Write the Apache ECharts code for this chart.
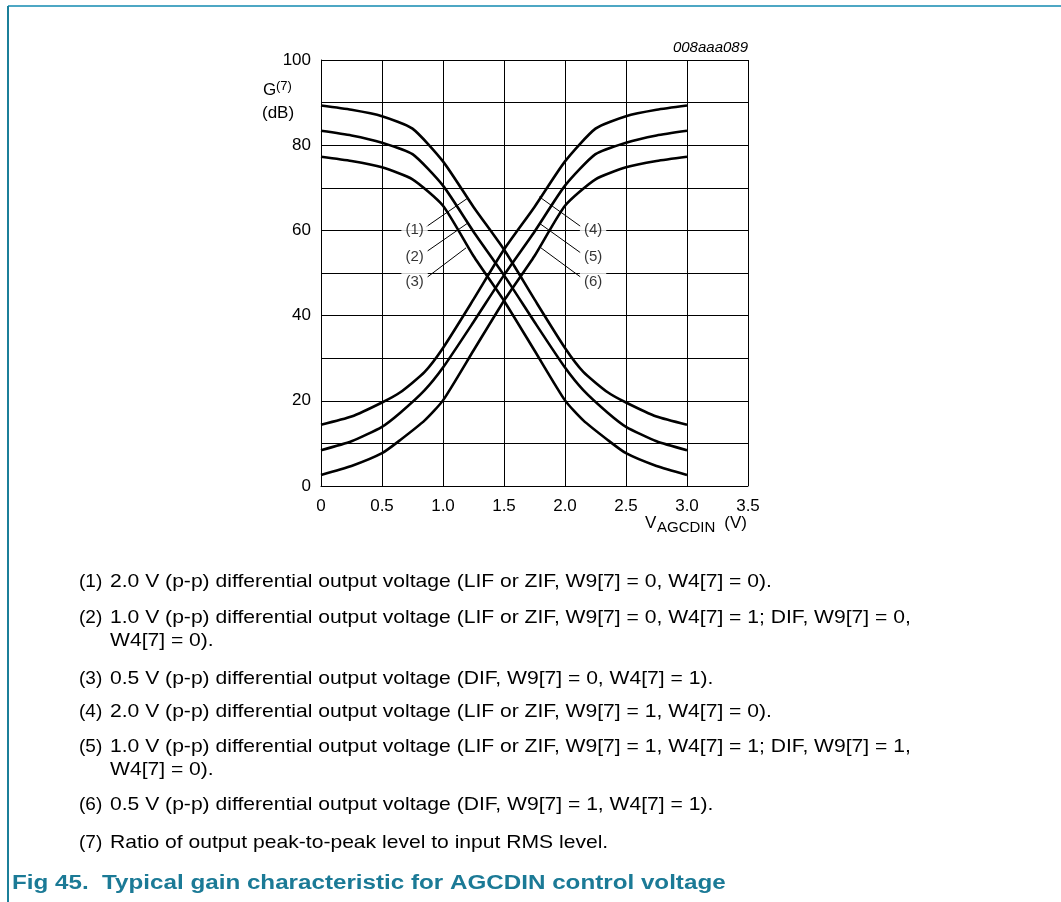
<!DOCTYPE html>
<html><head><meta charset="utf-8">
<script src="https://cdn.jsdelivr.net/npm/echarts@6/dist/echarts.min.js"></script>
<style>html,body{margin:0;padding:0;background:#fff}#c{width:1061px;height:902px}</style>
</head><body><div id="c"></div>
<script>
// ---- data ----
const xTickLabels = ['0', '0.5', '1.0', '1.5', '2.0', '2.5', '3.0', '3.5'];
const yTickLabels = [0, 20, 40, 60, 80, 100];

const xDec = [0, 0.25, 0.5, 0.75, 1.0, 1.25, 1.5, 1.75, 2.0, 2.15, 2.35, 2.5, 2.75, 3.0];
const curve1 = [89.3, 88.3, 86.8, 83.9, 76.2, 65.5, 55.5, 43.8, 32.4, 26.8, 22.0, 19.6, 16.3, 14.4];
const curve2 = [83.4, 82.3, 80.6, 77.9, 70.5, 59.7, 49.5, 38.5, 27.8, 22.5, 17.2, 13.9, 10.5, 8.4];
const curve3 = [77.3, 76.3, 74.8, 72.0, 65.8, 54.0, 43.5, 31.8, 20.1, 15.4, 10.8, 7.7, 4.7, 2.6];

const xInc = [0, 0.25, 0.5, 0.65, 0.85, 1.0, 1.25, 1.5, 1.75, 2.0, 2.25, 2.5, 2.75, 3.0];
const curve4 = [14.4, 16.3, 19.6, 22.0, 26.8, 32.4, 43.8, 55.5, 65.5, 76.2, 83.9, 86.8, 88.3, 89.3];
const curve5 = [8.4, 10.5, 13.9, 17.2, 22.5, 27.8, 38.5, 49.5, 59.7, 70.5, 77.9, 80.6, 82.3, 83.4];
const curve6 = [2.6, 4.7, 7.7, 10.8, 15.4, 20.1, 31.8, 43.5, 54.0, 65.8, 72.0, 74.8, 76.3, 77.3];

const curveLabels = ['(1)', '(2)', '(3)', '(4)', '(5)', '(6)'];
const labelAnchors = [[0.767, 60.1], [0.767, 53.9], [0.767, 48.0], [2.230, 60.1], [2.230, 53.9], [2.230, 48.0]];
const leaderFrom = [[0.86, 60.8], [0.87, 55.1], [0.87, 49.0], [2.13, 60.9], [2.13, 54.7], [2.13, 49.0]];
const leaderTo = [[1.199, 67.5], [1.202, 61.7], [1.189, 55.9], [1.789, 67.9], [1.789, 61.7], [1.803, 55.9]];

const noteNums = ['(1)', '(2)', '(3)', '(4)', '(5)', '(6)', '(7)'];
const noteTexts = [
  '2.0 V (p-p) differential output voltage (LIF or ZIF, W9[7] = 0, W4[7] = 0).',
  '1.0 V (p-p) differential output voltage (LIF or ZIF, W9[7] = 0, W4[7] = 1; DIF, W9[7] = 0,\nW4[7] = 0).',
  '0.5 V (p-p) differential output voltage (DIF, W9[7] = 0, W4[7] = 1).',
  '2.0 V (p-p) differential output voltage (LIF or ZIF, W9[7] = 1, W4[7] = 0).',
  '1.0 V (p-p) differential output voltage (LIF or ZIF, W9[7] = 1, W4[7] = 1; DIF, W9[7] = 1,\nW4[7] = 0).',
  '0.5 V (p-p) differential output voltage (DIF, W9[7] = 1, W4[7] = 1).',
  'Ratio of output peak-to-peak level to input RMS level.'
];
const captionText = 'Fig 45.  Typical gain characteristic for AGCDIN control voltage';
const figId = '008aaa089';

// ---- chart ----
const FONT = '"Liberation Sans", Arial, sans-serif';
const chart = echarts.init(document.getElementById('c'), null, {renderer: 'canvas'});

const pairs = (xs, ys) => xs.map((x, i) => [x, ys[i]]);
const curveSeries = [[xDec, curve1], [xDec, curve2], [xDec, curve3], [xInc, curve4], [xInc, curve5], [xInc, curve6]]
  .map(([xs, ys], i) => ({
    type: 'line', name: curveLabels[i], data: pairs(xs, ys), showSymbol: false, symbol: 'none',
    smooth: 0.2, silent: true, z: 4,
    lineStyle: {color: '#000', width: 2.6}
  }));
const leaderSeries = leaderFrom.map((p, i) => ({
  type: 'line', data: [p, leaderTo[i]], showSymbol: false, symbol: 'none', silent: true, z: 3,
  lineStyle: {color: '#000', width: 1}
}));
const labelSeries = {
  type: 'scatter', symbolSize: 0, silent: true, z: 5,
  data: labelAnchors.map((p, i) => ({value: p, name: curveLabels[i]})),
  label: {
    show: true, position: 'inside', formatter: p => p.name,
    fontFamily: FONT, fontSize: 15, color: '#000',
    backgroundColor: '#fff', padding: [4, 4, 3, 4]
  }
};

const noteY = [582, 618, 679, 712, 747, 805, 843];
const NOTE_FS = 19, NOTE_SX = 1.11;
const graphics = [
  {type: 'line', shape: {x1: 8, y1: 6, x2: 1061, y2: 6}, style: {stroke: '#4da7c4', lineWidth: 2}, silent: true},
  {type: 'line', shape: {x1: 8, y1: 6, x2: 8, y2: 902}, style: {stroke: '#1b7f99', lineWidth: 2}, silent: true},
  {type: 'text', x: 748, y: 48, style: {text: figId, font: 'italic 15px ' + FONT, fill: '#000', textAlign: 'right', textVerticalAlign: 'middle'}},
  {type: 'text', x: 263, y: 90, style: {text: 'G', font: '17px ' + FONT, fill: '#000', textAlign: 'left', textVerticalAlign: 'middle'}},
  {type: 'text', x: 276, y: 86, style: {text: '(7)', font: '13px ' + FONT, fill: '#000', textAlign: 'left', textVerticalAlign: 'middle'}},
  {type: 'text', x: 262, y: 113, style: {text: '(dB)', font: '17px ' + FONT, fill: '#000', textAlign: 'left', textVerticalAlign: 'middle'}},
  {type: 'text', x: 645, y: 523, style: {text: 'V', font: '17px ' + FONT, fill: '#000', textAlign: 'left', textVerticalAlign: 'middle'}},
  {type: 'text', x: 657, y: 528, style: {text: 'AGCDIN', font: '15px ' + FONT, fill: '#000', textAlign: 'left', textVerticalAlign: 'middle'}},
  {type: 'text', x: 747, y: 523, style: {text: '(V)', font: '17px ' + FONT, fill: '#000', textAlign: 'right', textVerticalAlign: 'middle'}},
  {type: 'text', x: 12, y: 883, scaleX: 1.21, originX: 0, originY: 0,
    style: {text: captionText, font: 'bold 20px ' + FONT, fill: '#1b7a96', textAlign: 'left', textVerticalAlign: 'middle'}}
];
noteNums.forEach((n, i) => {
  graphics.push({type: 'text', x: 79, y: noteY[i],
    style: {text: n, font: NOTE_FS + 'px ' + FONT, fill: '#000', textAlign: 'left', textVerticalAlign: 'middle'}});
  graphics.push({type: 'text', x: 110, y: noteY[i] - 11.5, scaleX: NOTE_SX, originX: 0, originY: 0,
    style: {text: noteTexts[i], font: NOTE_FS + 'px ' + FONT, lineHeight: 23, fill: '#000', textAlign: 'left', textVerticalAlign: 'top'}});
});

chart.setOption({
  animation: false,
  backgroundColor: '#fff',
  grid: {left: 321, top: 60, right: 1061 - 748, bottom: 902 - 486, containLabel: false},
  xAxis: {
    type: 'value', min: 0, max: 3.5, interval: 0.5,
    axisLine: {show: true, lineStyle: {color: '#000', width: 1}},
    axisTick: {show: false},
    axisLabel: {formatter: v => xTickLabels[Math.round(v / 0.5)], fontFamily: FONT, fontSize: 17, color: '#000', margin: 12},
    splitLine: {show: true, lineStyle: {color: '#000', width: 1}}
  },
  yAxis: {
    type: 'value', min: 0, max: 100, interval: 10,
    axisLine: {show: true, lineStyle: {color: '#000', width: 1}},
    axisTick: {show: false},
    axisLabel: {formatter: v => (yTickLabels.indexOf(v) >= 0 ? String(v) : ''), fontFamily: FONT, fontSize: 17, color: '#000', margin: 10},
    splitLine: {show: true, lineStyle: {color: '#000', width: 1}}
  },
  series: [...curveSeries, ...leaderSeries, labelSeries],
  graphic: graphics
});
</script></body></html>
